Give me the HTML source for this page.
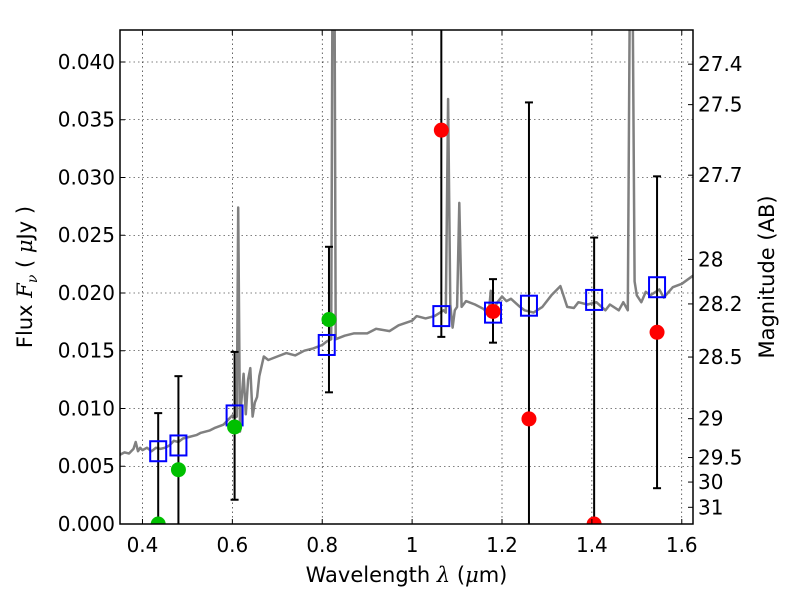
<!DOCTYPE html>
<html><head><meta charset="utf-8"><style>
html,body{margin:0;padding:0;background:#fff;width:800px;height:600px;overflow:hidden;}
svg{display:block;font-family:"DejaVu Sans","Liberation Sans",sans-serif;}
</style></head><body>
<svg id="chart" width="800" height="600" viewBox="0 0 800 600">
<defs><clipPath id="pc"><rect x="120" y="30" width="573" height="494"/></clipPath></defs>
<rect x="0" y="0" width="800" height="600" fill="#fff"/>
<g id="grid"></g>
<g clip-path="url(#pc)"><g id="spec"></g><g id="marks"></g></g>
<g id="axes"></g>
</svg>
<script>
const xTicks=[0.4,0.6,0.8,1.0,1.2,1.4,1.6];
const xTickLabels=["0.4","0.6","0.8","1","1.2","1.4","1.6"];
const yTicks=[0,0.005,0.01,0.015,0.02,0.025,0.03,0.035,0.04];
const yTickLabels=["0.000","0.005","0.010","0.015","0.020","0.025","0.030","0.035","0.040"];
const magTicks=[27.4,27.5,27.7,28,28.2,28.5,29,29.5,30,31];
const magTickLabels=["27.4","27.5","27.7","28","28.2","28.5","29","29.5","30","31"];
const specWave=[0.35,0.36,0.37,0.38,0.385,0.39,0.395,0.40,0.41,0.42,0.43,0.44,0.45,0.46,0.47,0.48,0.49,0.50,0.52,0.53,0.55,0.56,0.58,0.59,0.60,0.605,0.61,0.613,0.617,0.62,0.625,0.63,0.635,0.64,0.645,0.65,0.655,0.66,0.67,0.68,0.70,0.72,0.74,0.76,0.78,0.80,0.81,0.82,0.823,0.827,0.83,0.85,0.87,0.90,0.92,0.95,0.97,1.00,1.01,1.03,1.05,1.07,1.075,1.08,1.085,1.09,1.095,1.10,1.105,1.11,1.12,1.14,1.16,1.17,1.175,1.18,1.19,1.20,1.21,1.22,1.24,1.25,1.27,1.29,1.31,1.33,1.345,1.36,1.37,1.39,1.41,1.43,1.44,1.46,1.47,1.48,1.485,1.49,1.495,1.50,1.51,1.52,1.53,1.55,1.56,1.58,1.60,1.625];
const specFlux=[0.006,0.0062,0.0061,0.0065,0.0071,0.0063,0.0066,0.0064,0.0066,0.0063,0.0066,0.0065,0.0066,0.0068,0.0072,0.0071,0.0074,0.0075,0.0077,0.0079,0.0081,0.0083,0.0086,0.009,0.0094,0.0092,0.0093,0.0274,0.008,0.0105,0.013,0.0095,0.0125,0.0135,0.0093,0.0105,0.011,0.0128,0.0145,0.0142,0.0145,0.0148,0.0146,0.015,0.0152,0.0155,0.0158,0.016,0.05,0.05,0.016,0.0163,0.0165,0.0165,0.0169,0.0167,0.0172,0.0176,0.018,0.0178,0.018,0.0185,0.0183,0.0368,0.019,0.017,0.0185,0.0188,0.0278,0.0188,0.0193,0.019,0.0186,0.018,0.0202,0.0185,0.0192,0.0197,0.0193,0.0195,0.0188,0.0185,0.0183,0.0188,0.0198,0.0206,0.0188,0.0187,0.0192,0.019,0.0192,0.0185,0.019,0.0185,0.0192,0.0185,0.05,0.05,0.021,0.0198,0.0192,0.0201,0.0198,0.0203,0.0196,0.0205,0.0208,0.0215];
const modelWave=[0.435,0.48,0.605,0.81,1.065,1.18,1.26,1.405,1.545];
const modelFlux=[0.0063,0.0068,0.0094,0.0155,0.018,0.0183,0.0189,0.0194,0.0205];
const greenWave=[0.435,0.48,0.605,0.815];
const greenFlux=[0.0,0.0047,0.0084,0.0177];
const redWave=[1.065,1.18,1.26,1.405,1.545];
const redFlux=[0.0341,0.0184,0.0091,0.0,0.0166];
const errWave=[0.435,0.48,0.605,0.815,1.065,1.18,1.26,1.405,1.545];
const errLow=[-0.01,-0.01,0.0021,0.0114,0.0162,0.0157,-0.01,-0.01,0.0031];
const errHigh=[0.0096,0.0128,0.0149,0.0240,0.06,0.0212,0.0365,0.0248,0.0301];

const L=120,R=693,T=30,B=524,xmin=0.35,xmax=1.625,ymin=0,ymax=0.04277;
const X=v=>L+(v-xmin)/(xmax-xmin)*(R-L);
const Y=v=>B-(v-ymin)/(ymax-ymin)*(B-T);
const magToFlux=m=>Math.pow(10,(23.9-m)/2.5);
const NS="http://www.w3.org/2000/svg";
function mk(tag,attrs,parent){const e=document.createElementNS(NS,tag);for(const k in attrs)e.setAttribute(k,attrs[k]);parent.appendChild(e);return e;}
const grid=document.getElementById('grid'),spec=document.getElementById('spec'),marks=document.getElementById('marks'),axes=document.getElementById('axes');

xTicks.forEach((t,i)=>{const x=X(t);
 const g=mk('line',{x1:x,x2:x,y1:T,y2:B,stroke:'#000','stroke-width':0.6,'stroke-dasharray':'1.5,3'},grid);
 
 mk('line',{x1:x,x2:x,y1:B,y2:B-5,stroke:'#000'},axes);mk('line',{x1:x,x2:x,y1:T,y2:T+5,stroke:'#000'},axes);
 const tx=mk('text',{x:x,y:B+28,'text-anchor':'middle','font-size':20},axes);tx.textContent=xTickLabels[i];
 });
yTicks.forEach((t,i)=>{const y=Y(t);
 if(t>0){const g=mk('line',{x1:L,x2:R,y1:y,y2:y,stroke:'#000','stroke-width':0.6,'stroke-dasharray':'1.5,3'},grid);
 }
 mk('line',{x1:L,x2:L+5,y1:y,y2:y,stroke:'#000'},axes);
 const tx=mk('text',{x:L-5,y:y+7,'text-anchor':'end','font-size':20},axes);tx.textContent=yTickLabels[i];
 });
magTicks.forEach((m,i)=>{const y=Y(magToFlux(m));
 mk('line',{x1:R,x2:R-5,y1:y,y2:y,stroke:'#000'},axes);
 const tx=mk('text',{x:R+5,y:y+7,'font-size':20},axes);tx.textContent=magTickLabels[i];
 });

const pts=specWave.map((w,i)=>X(w).toFixed(1)+','+Y(specFlux[i]).toFixed(1)).join(' ');
const pl=mk('polyline',{points:pts,fill:'none',stroke:'#808080','stroke-width':2.5,'stroke-linejoin':'round'},spec);


errWave.forEach((w,i)=>{const x=X(w);
 const e=mk('line',{x1:x,x2:x,y1:Y(errLow[i]),y2:Y(errHigh[i]),stroke:'#000','stroke-width':2},marks);
 
 [errLow[i],errHigh[i]].forEach(v=>mk('line',{x1:x-4,x2:x+4,y1:Y(v),y2:Y(v),stroke:'#000','stroke-width':2},marks));});
modelWave.forEach((w,i)=>{
 const r=mk('rect',{x:X(w)-8,y:Y(modelFlux[i])-10,width:16,height:20,fill:'none',stroke:'#0000ff','stroke-width':2},marks);
 });
greenWave.forEach((w,i)=>{
 const c=mk('circle',{cx:X(w),cy:Y(greenFlux[i]),r:7.5,fill:'#00c000'},marks);
 });
redWave.forEach((w,i)=>{
 const c=mk('circle',{cx:X(w),cy:Y(redFlux[i]),r:7.5,fill:'#ff0000'},marks);
 });

const fr=mk('rect',{x:L,y:T,width:R-L,height:B-T,fill:'none',stroke:'#000','stroke-width':1.5},axes);

const xl=mk('text',{x:(L+R)/2,y:582,'text-anchor':'middle','font-size':21},axes);
xl.innerHTML='Wavelength  <tspan font-family="DejaVu Serif" font-style="italic">λ</tspan> (<tspan font-family="DejaVu Serif" font-style="italic">μ</tspan>m)';

const yl=mk('text',{x:0,y:0,'text-anchor':'middle','font-size':21,transform:'translate(32,277) rotate(-90)'},axes);
yl.innerHTML='Flux  <tspan font-family="DejaVu Serif" font-style="italic">F</tspan><tspan font-family="DejaVu Serif" font-style="italic" font-size="14" dy="5">ν</tspan><tspan dy="-5">  ( </tspan><tspan font-family="DejaVu Serif" font-style="italic">μ</tspan>Jy )';

const ml=mk('text',{x:0,y:0,'text-anchor':'middle','font-size':21,transform:'translate(774,277) rotate(-90)'},axes);
ml.textContent='Magnitude (AB)';

</script>
</body></html>
